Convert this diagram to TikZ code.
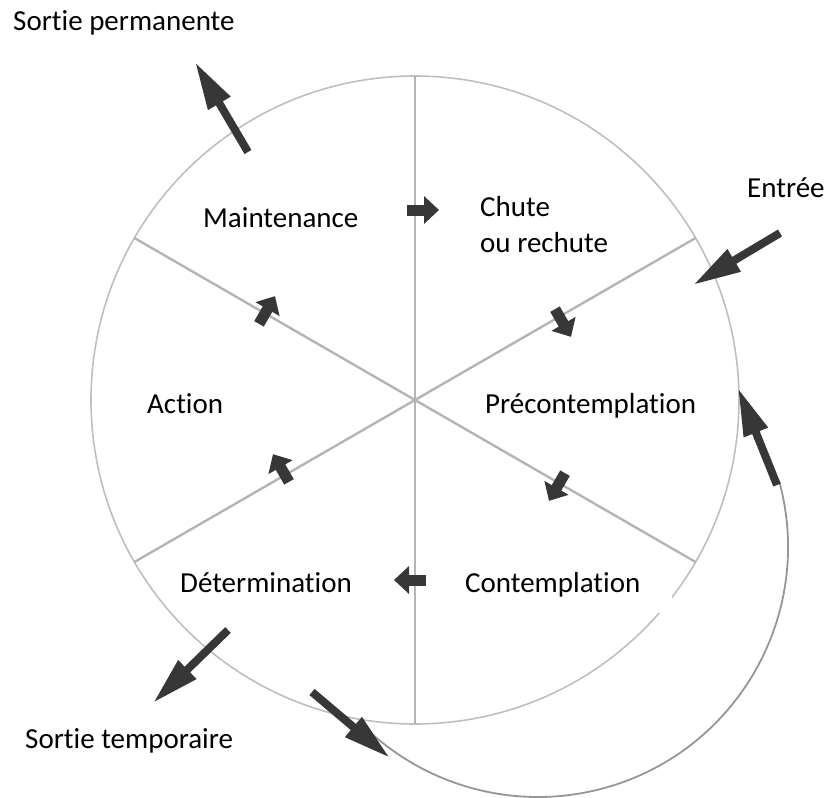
\documentclass[tikz,border=0pt]{standalone}
\usepackage{fontspec}
\setmainfont{Carlito}[Ligatures=NoCommon]
\usetikzlibrary{arrows.meta,calc}
\definecolor{linegray}{RGB}{190,190,190}
\definecolor{spokegray}{RGB}{180,180,180}
\definecolor{outergray}{RGB}{150,150,150}
\definecolor{arrowgray}{RGB}{55,55,55}
\begin{document}
\begin{tikzpicture}[x=1pt,y=1pt,
  lbl/.style={font=\fontsize{29}{35}\selectfont, inner xsep=0pt, inner ysep=4pt, anchor=base west},
  bigarrow/.style={draw=arrowgray, line width=8pt, -{Triangle[length=48pt,width=24pt]}},
  smallarrow/.style={draw=arrowgray, line width=11pt, -{Triangle[length=15pt,width=27pt]}},
  ring/.style={draw=linegray, line width=1.6pt},
  outerring/.style={draw=outergray, line width=1.8pt},
  spoke/.style={draw=spokegray, line width=2.4pt}]
\useasboundingbox (0,0) rectangle (828,-798);
% main circle and its spokes
\coordinate (O) at (415,-400);
\draw[ring] (O) circle[radius=324pt];
\coordinate (s90) at ($(O)+(90:324pt)$);
\coordinate (s270) at ($(O)+(270:324pt)$);
\coordinate (s30) at ($(O)+(30:324pt)$);
\coordinate (s210) at ($(O)+(210:324pt)$);
\coordinate (s150) at ($(O)+(150:324pt)$);
\coordinate (s330) at ($(O)+(330:324pt)$);
\draw[spoke] (s90) -- (s270);
\draw[spoke] (s30) -- (s210);
\draw[spoke] (s150) -- (s330);
% outer recycling arc
\coordinate (C2) at (538,-547);
\draw[outerring] ($(C2)+(15:250pt)$) arc[start angle=15, end angle=-133, radius=250pt];
% white masks behind labels
\fill[white] (467,-552) rectangle (672,-613);
% labels
\node[lbl] (sp) at (13,-30) {Sortie permanente};
\node[lbl] (maint) at (203,-227) {Maintenance};
\node[lbl] (chute) at (480,-216) {Chute};
\node[lbl] (rechute) at (480,-252) {ou rechute};
\node[lbl] (entree) at (747,-197) {Entrée};
\node[lbl] (action) at (147,-413) {Action};
\node[lbl] (precont) at (485,-413) {Précontemplation};
\node[lbl] (determ) at (180,-592) {Détermination};
\node[lbl] (contemp) at (465,-592) {Contemplation};
\node[lbl] (st) at (25,-748) {Sortie temporaire};
% big arrows
\coordinate (spT) at (248,-152); \coordinate (spH) at (195,-62);
\coordinate (enT) at (780,-233); \coordinate (enH) at (693,-285);
\coordinate (stT) at (228,-630); \coordinate (stH) at (153,-703);
\coordinate (btT) at (312,-692); \coordinate (btH) at (390,-758);
\coordinate (rtT) at (777,-485); \coordinate (rtH) at (738,-388);
\draw[bigarrow] (spT) -- (spH);
\draw[bigarrow] (enT) -- (enH);
\draw[bigarrow] (stT) -- (stH);
\draw[bigarrow] (btT) -- (btH);
\draw[bigarrow] (rtT) -- (rtH);
% small arrows on the spokes
\coordinate (a1) at (423,-210);
\coordinate (a2) at (563,-323);
\coordinate (a3) at (557,-487);
\coordinate (a4) at (410,-580);
\coordinate (a5) at (281,-468);
\coordinate (a6) at (267,-310);
\draw[smallarrow] ($(a1)+(180:16pt)$) -- ($(a1)+(0:16pt)$);
\draw[smallarrow] ($(a2)+(120:16pt)$) -- ($(a2)+(-60:16pt)$);
\draw[smallarrow] ($(a3)+(60:16pt)$) -- ($(a3)+(-120:16pt)$);
\draw[smallarrow] ($(a4)+(0:16pt)$) -- ($(a4)+(180:16pt)$);
\draw[smallarrow] ($(a5)+(-60:16pt)$) -- ($(a5)+(120:16pt)$);
\draw[smallarrow] ($(a6)+(240:16pt)$) -- ($(a6)+(60:16pt)$);
\end{tikzpicture}
\end{document}
